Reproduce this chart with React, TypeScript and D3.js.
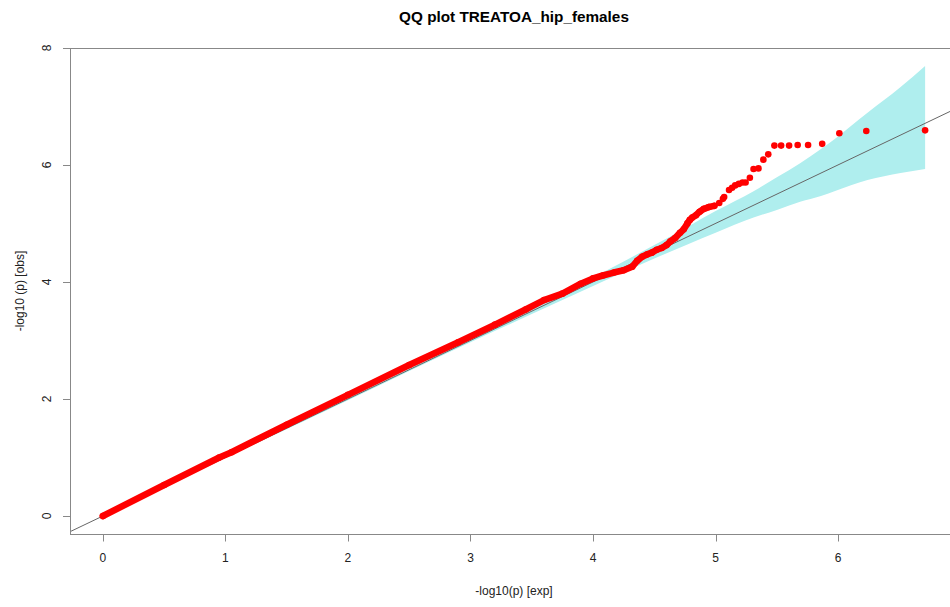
import React from "react";
import * as d3 from "d3";

// ---- data ----
const title = "QQ plot TREATOA_hip_females";
const xLabel = "-log10(p) [exp]";
const yLabel = "-log10 (p) [obs]";
const xTicks = [0, 1, 2, 3, 4, 5, 6];
const yTicks = [0, 2, 4, 6, 8];

// dense body of the QQ curve (expected, observed)
const bodyExp = [0, 0.5, 0.95, 1.05, 1.5, 2.0, 2.5, 2.9, 3.2, 3.45, 3.6, 3.75, 3.9, 4.0, 4.08, 4.17, 4.25, 4.32];
const bodyObs = [0, 0.53, 1.0, 1.09, 1.56, 2.07, 2.58, 2.97, 3.27, 3.53, 3.69, 3.80, 3.97, 4.06, 4.11, 4.16, 4.20, 4.26];

// upper tail
const tailExp = [4.36, 4.40, 4.44, 4.48, 4.52, 4.56, 4.60, 4.63, 4.67, 4.71, 4.74, 4.77, 4.79, 4.81, 4.84, 4.87, 4.905, 4.945, 4.99, 5.03, 5.06, 5.07, 5.11, 5.135, 5.16, 5.19, 5.22, 5.245, 5.28, 5.31, 5.35, 5.39, 5.43, 5.48, 5.535, 5.60, 5.67, 5.755, 5.87, 6.01, 6.23, 6.71];
const tailObs = [4.36, 4.43, 4.47, 4.50, 4.55, 4.58, 4.63, 4.69, 4.75, 4.84, 4.90, 5.00, 5.06, 5.10, 5.14, 5.20, 5.25, 5.28, 5.30, 5.35, 5.42, 5.45, 5.57, 5.61, 5.65, 5.675, 5.70, 5.70, 5.78, 5.93, 5.94, 6.09, 6.18, 6.33, 6.33, 6.33, 6.34, 6.34, 6.36, 6.54, 6.58, 6.59];

// confidence band
const bandExp = [0, 1, 2, 3, 3.5, 4.0, 4.25, 4.5, 4.77, 5.0, 5.31, 5.5, 5.69, 5.86, 5.97, 6.24, 6.51, 6.71];
const bandLo = [0, 0.99, 1.98, 2.97, 3.45, 3.93, 4.17, 4.40, 4.64, 4.84, 5.10, 5.23, 5.37, 5.47, 5.55, 5.74, 5.86, 5.93];
const bandHi = [0, 1.01, 2.02, 3.03, 3.55, 4.08, 4.35, 4.63, 4.94, 5.21, 5.55, 5.79, 6.03, 6.27, 6.44, 6.89, 7.33, 7.69];

const W = 950;
const H = 607;
const plotLeft = 70;
const plotRight = 958;
const plotTop = 48;
const plotBottom = 534;

export default function App() {
  const xMax = d3.max(tailExp) as number;
  const yMax = d3.max(bandHi) as number;
  const xPad = xMax * 0.04;
  const yPad = yMax * 0.04;
  const x = d3.scaleLinear().domain([0 - xPad, xMax + xPad]).range([plotLeft, plotRight]);
  const y = d3.scaleLinear().domain([0 - yPad, yMax + yPad]).range([plotBottom, plotTop]);

  const bandData = bandExp.map((e, i) => ({ e, lo: bandLo[i], hi: bandHi[i] }));
  const area = d3
    .area<{ e: number; lo: number; hi: number }>()
    .x((d) => x(d.e))
    .y0((d) => y(d.lo))
    .y1((d) => y(d.hi))
    .curve(d3.curveMonotoneX);

  const pts = [
    ...bodyExp.map((e, i) => ({ e, o: bodyObs[i] })),
    ...tailExp.map((e, i) => ({ e, o: tailObs[i] })),
  ];
  const densePts = pts.filter((p) => p.e <= 4.99);
  const line = d3
    .line<{ e: number; o: number }>()
    .x((d) => x(d.e))
    .y((d) => y(d.o));

  const [dx0, dx1] = x.domain();
  const font = "'Liberation Sans', Arial, Helvetica, sans-serif";
  const axisCol = "#888";
  const textCol = "#222";
  const cx = (plotLeft + plotRight) / 2;
  const cy = (plotTop + plotBottom) / 2;

  return (
    <svg
      width={W}
      height={H}
      style={{ position: "absolute", left: 0, top: 0, display: "block", background: "#fff" }}
      fontFamily={font}
    >
      <defs>
        <clipPath id="plotclip">
          <rect x={plotLeft} y={plotTop} width={plotRight - plotLeft} height={plotBottom - plotTop} />
        </clipPath>
      </defs>
      <g clipPath="url(#plotclip)">
        <path d={area(bandData) || ""} fill="#AFEEEE" stroke="none" />
        <line x1={x(dx0)} y1={y(dx0)} x2={x(dx1)} y2={y(dx1)} stroke="#666" strokeWidth={1} />
        <path
          d={line(densePts) || ""}
          fill="none"
          stroke="#ff0000"
          strokeWidth={6.6}
          strokeLinecap="round"
          strokeLinejoin="round"
        />
        {pts.map((p, i) => (
          <circle key={i} cx={x(p.e)} cy={y(p.o)} r={3.3} fill="#ff0000" />
        ))}
      </g>
      {/* box */}
      <rect
        x={plotLeft + 0.5}
        y={plotTop + 0.5}
        width={plotRight - plotLeft}
        height={plotBottom - plotTop}
        fill="none"
        stroke={axisCol}
        strokeWidth={1}
      />
      {/* x axis ticks */}
      {xTicks.map((t) => (
        <g key={"x" + t}>
          <line
            x1={Math.round(x(t)) + 0.5}
            x2={Math.round(x(t)) + 0.5}
            y1={plotBottom + 0.5}
            y2={plotBottom + 7.5}
            stroke={axisCol}
          />
          <text x={x(t)} y={562} textAnchor="middle" fontSize={12} fill={textCol}>
            {t}
          </text>
        </g>
      ))}
      {/* y axis ticks */}
      {yTicks.map((t) => (
        <g key={"y" + t}>
          <line
            x1={plotLeft - 7}
            x2={plotLeft + 0.5}
            y1={Math.round(y(t)) + 0.5}
            y2={Math.round(y(t)) + 0.5}
            stroke={axisCol}
          />
          <text
            transform={`translate(47,${y(t)}) rotate(-90)`}
            textAnchor="middle"
            dy="0.35em"
            fontSize={12}
            fill={textCol}
          >
            {t}
          </text>
        </g>
      ))}
      <text x={cx} y={22} textAnchor="middle" fontSize={15.3} fontWeight="bold" fill="#000">
        {title}
      </text>
      <text x={cx} y={595} textAnchor="middle" fontSize={12} fill={textCol}>
        {xLabel}
      </text>
      <text
        transform={`translate(20,${cy}) rotate(-90)`}
        textAnchor="middle"
        dy="0.35em"
        fontSize={12}
        fill={textCol}
      >
        {yLabel}
      </text>
    </svg>
  );
}
